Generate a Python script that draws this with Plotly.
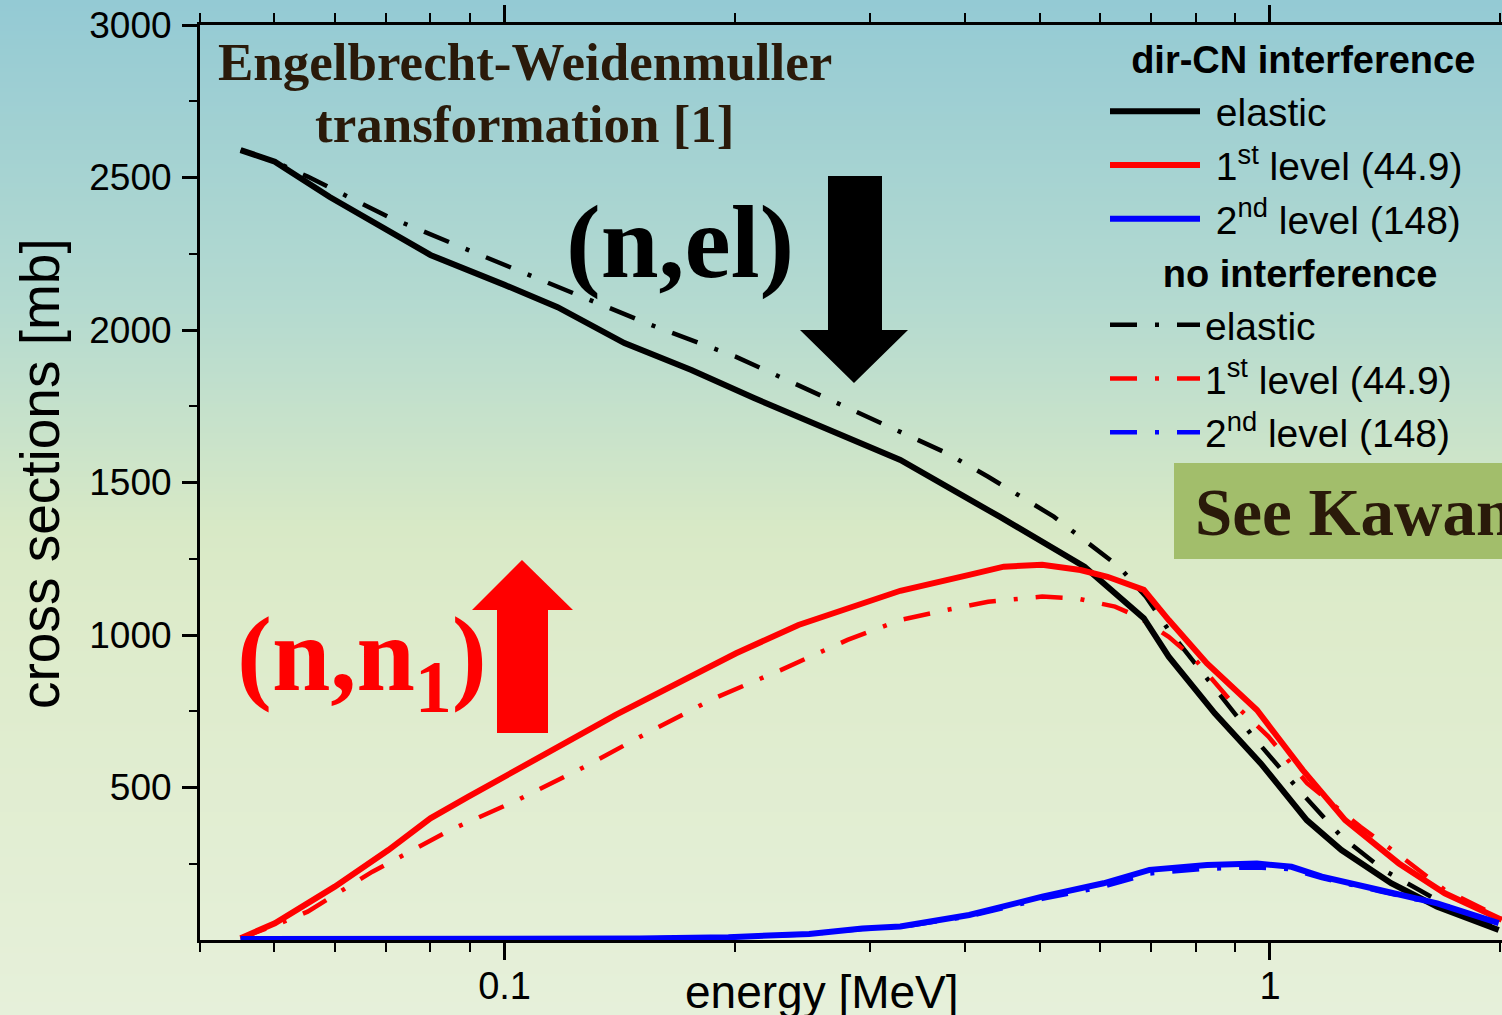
import math, zlib, struct, base64
import plotly.graph_objects as go

# ---------------- data ----------------
E_el_int = [0.0452, 0.0501, 0.0591, 0.0800, 0.100, 0.1173, 0.1434, 0.1754, 0.2118, 0.3289, 0.444,
            0.5724, 0.6842, 0.7375, 0.847, 0.9727, 1.117, 1.240, 1.440, 1.654, 1.990]
sig_el_int = [2590, 2552, 2436, 2246, 2148, 2075, 1957, 1869, 1777, 1574, 1387,
              1224, 1055, 929, 743, 579, 393, 295, 186, 109, 33]

E_el_no = [0.0452, 0.0501, 0.0553, 0.0705, 0.0897, 0.1173, 0.1534, 0.2007, 0.2555, 0.3776, 0.4284,
           0.5219, 0.6348, 0.6882, 0.7375, 0.8376, 0.9501, 1.091, 1.240, 1.407, 1.713, 1.990]
sig_el_no = [2590, 2552, 2503, 2371, 2262, 2142, 2022, 1912, 1792, 1597, 1519,
             1388, 1224, 1126, 1016, 843, 667, 492, 339, 230, 109, 40]

E_n1_int = [0.0452, 0.0501, 0.0600, 0.0705, 0.0800, 0.0897, 0.1397, 0.2007, 0.2421, 0.3001, 0.3289,
            0.4046, 0.4490, 0.5040, 0.5655, 0.6134, 0.6842, 0.7375, 0.8275, 0.9617, 1.104, 1.254,
            1.474, 1.692, 2.009]
sig_n1_int = [6, 55, 175, 295, 399, 470, 738, 940, 1033, 1115, 1145,
              1197, 1224, 1230, 1213, 1191, 1148, 1049, 907, 754, 557, 393,
              251, 153, 66]

E_n1_no = [0.0452, 0.0501, 0.0553, 0.0672, 0.0850, 0.1040, 0.1272, 0.1534, 0.1877, 0.2295, 0.2806,
           0.3289, 0.3776, 0.4284, 0.5040, 0.5593, 0.6275, 0.6725, 0.7375, 0.7995, 0.8867, 0.9955,
           1.118, 1.313, 1.474, 1.692, 2.009]
sig_n1_no = [6, 48, 93, 224, 361, 459, 568, 678, 792, 885, 984,
             1049, 1082, 1109, 1126, 1120, 1093, 1060, 994, 918, 787, 667,
             514, 371, 279, 164, 72]

E_n2 = [0.0452, 0.06, 0.08, 0.1, 0.15, 0.1961, 0.25, 0.2934, 0.3289, 0.4046, 0.5040,
        0.6061, 0.6960, 0.8275, 0.9617, 1.067, 1.169, 1.391, 1.654, 1.990]
sig_n2_int = [3, 3, 3, 3, 5, 9, 20, 38, 44, 82, 142,
              186, 230, 246, 251, 240, 208, 164, 120, 55]
sig_n2_no = [3, 3, 3, 3, 5, 9, 19, 36, 42, 78, 135,
             175, 218, 234, 238, 232, 203, 160, 118, 55]

x_tickvals = [0.1, 1]
x_ticktext = ["0.1", "1"]
x_minor = [0.04, 0.05, 0.06, 0.07, 0.08, 0.09, 0.2, 0.3, 0.4, 0.5, 0.6, 0.7, 0.8, 0.9, 2]
y_tickvals = [500, 1000, 1500, 2000, 2500, 3000]
y_minor = [250, 750, 1250, 1750, 2250, 2750]

# ---------------- geometry helpers ----------------
W, H = 1502, 1015
PL, PR, PT, PB = 200, 1502, 25, 940
PW, PH = PR - PL, PB - PT


def px(x):
    return (x - PL) / PW


def py(y):
    return (PB - y) / PH


# ---------------- background gradient (PNG data URI) ----------------
stops = [(0.0, (148, 202, 212)), (0.30, (180, 218, 208)), (0.52, (216, 233, 198)),
         (0.60, (221, 235, 202)), (1.0, (230, 240, 218))]


def grad_png(h=512):
    raw = b""
    for i in range(h):
        t = i / (h - 1)
        for k in range(len(stops) - 1):
            if stops[k][0] <= t <= stops[k + 1][0]:
                a, ca = stops[k]
                b, cb = stops[k + 1]
                f = (t - a) / (b - a)
                c = [int(round(ca[j] + f * (cb[j] - ca[j]))) for j in range(3)]
                break
        raw += b"\x00" + bytes(c)

    def chunk(tag, data):
        return struct.pack(">I", len(data)) + tag + data + struct.pack(">I", zlib.crc32(tag + data) & 0xffffffff)

    png = b"\x89PNG\r\n\x1a\n" + chunk(b"IHDR", struct.pack(">IIBBBBB", 1, h, 8, 2, 0, 0, 0)) \
        + chunk(b"IDAT", zlib.compress(raw)) + chunk(b"IEND", b"")
    return "data:image/png;base64," + base64.b64encode(png).decode()


# ---------------- figure ----------------
fig = go.Figure()
DASH = "27px,18px,4px,18px"
LEG_FONT = dict(family="Liberation Sans, Arial, sans-serif", size=39, color="black")
TITLE_FONT = dict(family="Liberation Sans, Arial, sans-serif", size=38, color="black")
NB = "\u00a0"

series = [
    (E_el_int, sig_el_int, "black", "solid", 6, NB + "elastic", "int", 1),
    (E_n1_int, sig_n1_int, "#ff0000", "solid", 6, NB + "1<sup>st</sup> level (44.9)", "int", 2),
    (E_n2, sig_n2_int, "#0000ff", "solid", 6, NB + "2<sup>nd</sup> level (148)", "int", 3),
    (E_el_no, sig_el_no, "black", DASH, 4.5, "elastic", "no", 4),
    (E_n1_no, sig_n1_no, "#ff0000", DASH, 4.5, "1<sup>st</sup> level (44.9)", "no", 5),
    (E_n2, sig_n2_no, "#0000ff", DASH, 4.5, "2<sup>nd</sup> level (148)", "no", 6),
]
titles = {"int": NB * 2 + "<b>dir-CN interference</b>",
          "no": NB * 5 + "<b>no interference</b>"}
# draw dash-dot lines first, then the solid lines on top
for idx in [3, 4, 5, 0, 1, 2]:
    xs, ys, col, dash, wd, name, grp, rank = series[idx]
    fig.add_trace(go.Scatter(
        x=xs, y=ys, mode="lines", name=name,
        line=dict(color=col, width=wd, dash=dash),
        legendgroup=grp, legendrank=rank,
        legendgrouptitle=dict(text=titles[grp], font=TITLE_FONT),
    ))

black_arrow = [(828, 176), (882, 176), (882, 330), (908, 330), (854, 383), (800, 330), (828, 330)]
red_arrow = [(497, 733), (548, 733), (548, 610), (573, 610), (522, 560), (472, 610), (497, 610)]


def poly(points):
    return "M " + " L ".join(f"{px(a):.5f},{py(b):.5f}" for a, b in points) + " Z"


shapes = [
    dict(type="path", path=poly(black_arrow), xref="paper", yref="paper",
         fillcolor="black", line=dict(width=0)),
    dict(type="path", path=poly(red_arrow), xref="paper", yref="paper",
         fillcolor="#ff0000", line=dict(width=0)),
    dict(type="rect", xref="paper", yref="paper", x0=px(1174), x1=px(1530), y0=py(559), y1=py(463),
         fillcolor="#a2be6b", line=dict(width=0)),
]

SERIF = "Liberation Serif, Times New Roman, serif"
SANS = "Liberation Sans, Arial, sans-serif"
BROWN = "#2a1a0a"
annotations = [
    dict(text="<b>Engelbrecht-Weidenmuller</b>", x=px(525), y=py(62), font=dict(family=SERIF, size=53, color=BROWN)),
    dict(text="<b>transformation [1]</b>", x=px(525), y=py(124), font=dict(family=SERIF, size=53, color=BROWN)),
    dict(text="<b>(n,el)</b>", x=px(680), y=py(242), font=dict(family=SERIF, size=104, color="black")),
    dict(text="<b>(n,n<sub>1</sub>)</b>", x=px(235), y=py(662), xanchor="left",
         font=dict(family=SERIF, size=105, color="#ff0000")),
    dict(text="<b>See Kawano</b>", x=px(1193), y=py(512), xanchor="left",
         font=dict(family=SERIF, size=67, color=BROWN)),
    dict(text="energy [MeV]", x=px(822), y=py(992), font=dict(family=SANS, size=46, color="black")),
    dict(text="cross sections [mb]", x=px(40), y=py(474), textangle=-90,
         font=dict(family=SANS, size=55, color="black")),
]
for a in annotations:
    a.setdefault("xanchor", "center")
    a.update(xref="paper", yref="paper", yanchor="middle", showarrow=False)

fig.update_layout(
    width=W, height=H, autosize=False,
    margin=dict(l=PL, r=W - PR, t=PT, b=H - PB, pad=0, autoexpand=False),
    paper_bgcolor="rgba(0,0,0,0)", plot_bgcolor="rgba(0,0,0,0)",
    images=[dict(source=grad_png(), xref="paper", yref="paper", x=-PL / PW, y=1 + PT / PH,
                 sizex=W / PW, sizey=H / PH, sizing="stretch", xanchor="left", yanchor="top",
                 layer="below")],
    shapes=shapes,
    annotations=annotations,
    showlegend=True,
    legend=dict(x=px(1105), y=py(27), xanchor="left", yanchor="top", bgcolor="rgba(0,0,0,0)",
                borderwidth=0, font=LEG_FONT, itemwidth=90, tracegroupgap=0,
                traceorder="grouped"),
    xaxis=dict(type="log", range=[math.log10(0.04), math.log10(2.01)], automargin=False,
               tickvals=x_tickvals, ticktext=x_ticktext, ticks="outside", ticklen=17, tickwidth=2.5,
               tickcolor="black", showline=True, linewidth=3, linecolor="black", mirror="ticks",
               showgrid=False, zeroline=False, ticklabelstandoff=-7,
               tickfont=dict(family=SANS, size=38, color="black"),
               minor=dict(tickvals=x_minor, ticks="outside", ticklen=9, tickwidth=2,
                          tickcolor="black", showgrid=False)),
    yaxis=dict(range=[0, 3000], tickvals=y_tickvals, ticks="outside", ticklen=15, tickwidth=2.5,
               automargin=False,
               tickcolor="black", showline=True, linewidth=3, linecolor="black", mirror="ticks",
               showgrid=False, zeroline=False, ticklabelstandoff=3,
               tickfont=dict(family=SANS, size=37, color="black"),
               minor=dict(tickvals=y_minor, ticks="outside", ticklen=8, tickwidth=2,
                          tickcolor="black", showgrid=False)),
)

fig.write_html("out.html", config={"displayModeBar": False},
               post_script="document.body.style.margin='0';document.body.style.overflow='hidden';")
